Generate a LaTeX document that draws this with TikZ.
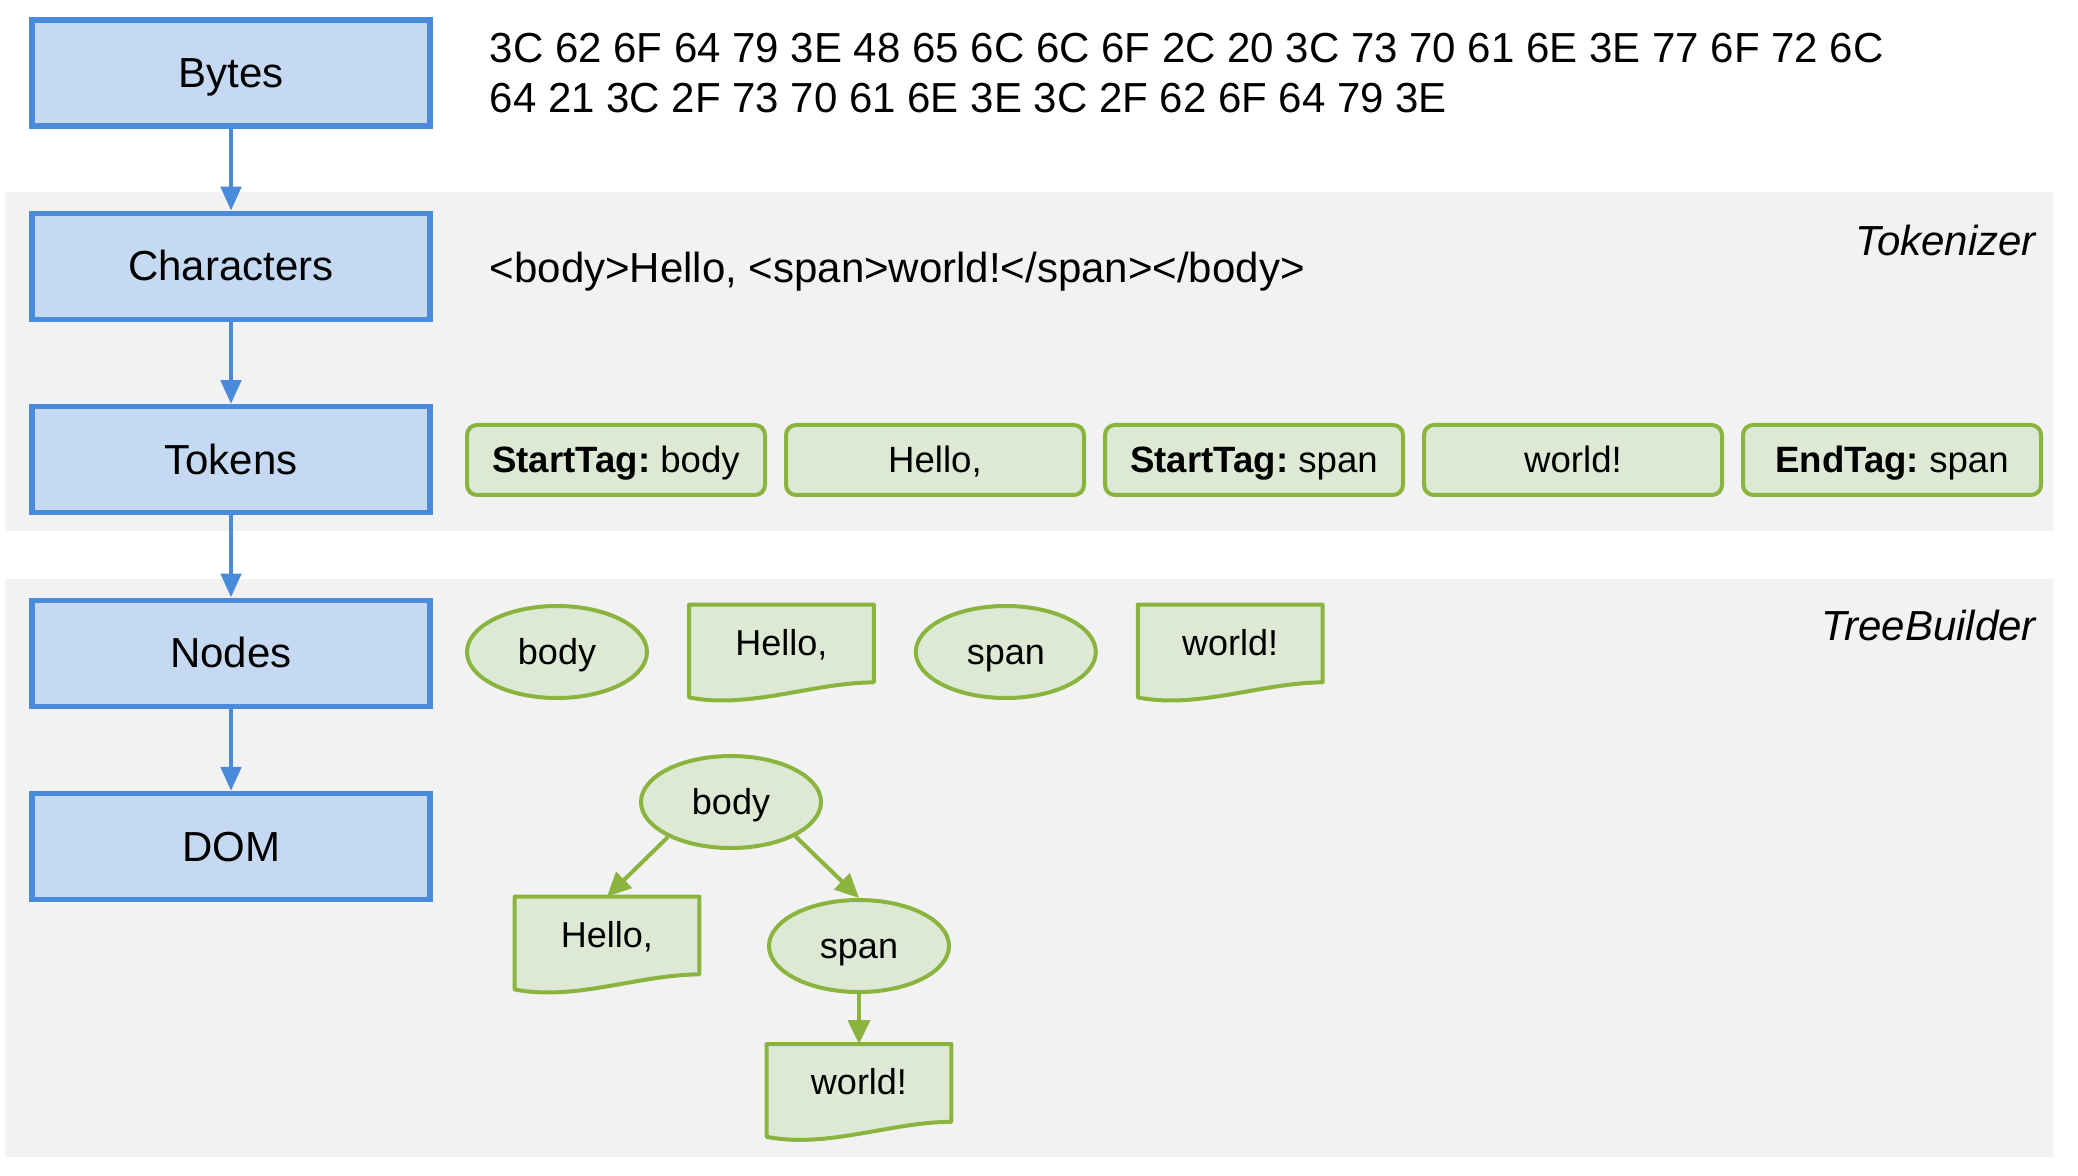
\documentclass[tikz,border=0pt]{standalone}
\usepackage{fontspec}
\setmainfont{Liberation Sans}
\usepackage{tikz}
\usetikzlibrary{arrows.meta, positioning, shapes.geometric, calc}
\usepackage{xcolor}
\definecolor{cStage}{HTML}{C5D9F2}
\definecolor{cStageLine}{HTML}{4A8ADB}
\definecolor{cTok}{HTML}{DDE9D5}
\definecolor{cTokLine}{HTML}{8AB43E}
\definecolor{cBand}{HTML}{F2F2F2}
% wavy-bottomed document outline round a node
\newcommand{\docframe}[1]{%
  \draw[docline] (#1.north west) -- (#1.north east)
    -- ([yshift=8.5pt]#1.south east)
    .. controls ([xshift=-30pt,yshift=8.5pt]#1.south east)
       and ([xshift=30pt,yshift=-5pt]#1.south west)
    .. ([yshift=1pt]#1.south west) -- cycle;}

\begin{document}
\frenchspacing
\begin{tikzpicture}[
  x=0.5pt, y=-0.5pt,
  >=Triangle,
  node distance = 41pt,
  stage/.style   = {rectangle, draw=cStageLine, fill=cStage, line width=2.7pt,
                    minimum width=199pt, minimum height=53pt, inner sep=0pt,
                    text height=14.5pt, text depth=0pt,
                    font=\fontsize{21}{24}\selectfont},
  token/.style   = {rectangle, rounded corners=5pt, draw=cTokLine, fill=cTok,
                    line width=2pt, minimum width=149pt, minimum height=35pt,
                    inner sep=0pt, text height=12.8pt, text depth=0pt,
                    font=\fontsize{18.3}{21}\selectfont},
  elem/.style    = {ellipse, draw=cTokLine, fill=cTok, line width=2pt,
                    minimum width=90pt, minimum height=46pt, inner sep=0pt,
                    text height=12.5pt, text depth=0pt,
                    font=\fontsize{18}{21}\selectfont},
  docnode/.style = {rectangle, minimum width=92pt, inner sep=0pt,
                    text height=25pt, text depth=22pt,
                    font=\fontsize{18}{21}\selectfont},
  docline/.style = {draw=cTokLine, fill=cTok, line width=2pt, line join=round},
  band/.style    = {fill=cBand, draw=none},
  arr/.style     = {draw=cStageLine, line width=2.4pt,
                    -{Triangle[length=12pt, width=10pt]}},
  garr/.style    = {draw=cTokLine, line width=2pt,
                    -{Triangle[length=12pt, width=11pt]}},
  phase/.style   = {font=\fontsize{21}{25}\selectfont\itshape, anchor=east},
  plain/.style   = {font=\fontsize{21}{25}\selectfont, align=left}]

\useasboundingbox (0,0) rectangle (2078,1176);

% ---- background bands -----------------------------------------------------
\fill[band] (5,192) rectangle (2053,531);
\fill[band] (5,579) rectangle (2053,1157);
\node[phase] (tokenizer) at (2043,240) {Tokenizer};
\node[phase] (builder)   at (2043,625) {TreeBuilder};

% ---- left column: the stages ----------------------------------------------
\node[stage] (bytes) at (231,73) {Bytes};
\node[stage, below=of bytes] (chars) {Characters};
\node[stage, below=of chars] (tokens) {Tokens};
\node[stage, below=of tokens] (nodes) {Nodes};
\node[stage, below=of nodes] (dom) {DOM};

\draw[arr] (bytes) -- (chars);
\draw[arr] (chars) -- (tokens);
\draw[arr] (tokens) -- (nodes);
\draw[arr] (nodes) -- (dom);

% ---- raw input ------------------------------------------------------------
\node[plain, right=25pt of bytes] (hex)
  {3C 62 6F 64 79 3E 48 65 6C 6C 6F 2C 20 3C 73 70 61 6E 3E 77 6F 72 6C\\
   64 21 3C 2F 73 70 61 6E 3E 3C 2F 62 6F 64 79 3E};
\node[plain, right=25pt of chars, yshift=-2.5pt] (text)
  {<body>Hello, <span>world!</span></body>};

% ---- token row ------------------------------------------------------------
\node[token] (tk1) at (616,460) {\textbf{StartTag:} body};
\node[token, right=8.5pt of tk1] (tk2) {Hello,};
\node[token, right=8.5pt of tk2] (tk3) {\textbf{StartTag:} span};
\node[token, right=8.5pt of tk3] (tk4) {world!};
\node[token, right=8.5pt of tk4] (tk5) {\textbf{EndTag:} span};

% ---- node row -------------------------------------------------------------
\node[elem] (nbody) at (557,652) {body};
\node[docnode, right=20pt of nbody] (nhello) {Hello,};
\node[elem, right=20pt of nhello] (nspan) {span};
\node[docnode, right=20pt of nspan] (nworld) {world!};

% ---- DOM tree -------------------------------------------------------------
\node[elem] (tbody) at (731,802) {body};
\node[docnode] (thello) at (607,944) {Hello,};
\node[elem] (tspan) at (859,946) {span};
\node[docnode, below=25pt of tspan] (tworld) {world!};

% document outlines, then the labels again on top
\foreach \d in {nhello, nworld, thello, tworld} {\docframe{\d}}
\node[docnode] at (nhello) {Hello,};
\node[docnode] at (nworld) {world!};
\node[docnode] at (thello) {Hello,};
\node[docnode] at (tworld) {world!};

\draw[garr] (tbody.209) -- (thello.north);
\draw[garr] (tbody.332) -- (tspan.north);
\draw[garr] (tspan) -- (tworld);

\end{tikzpicture}
\end{document}
